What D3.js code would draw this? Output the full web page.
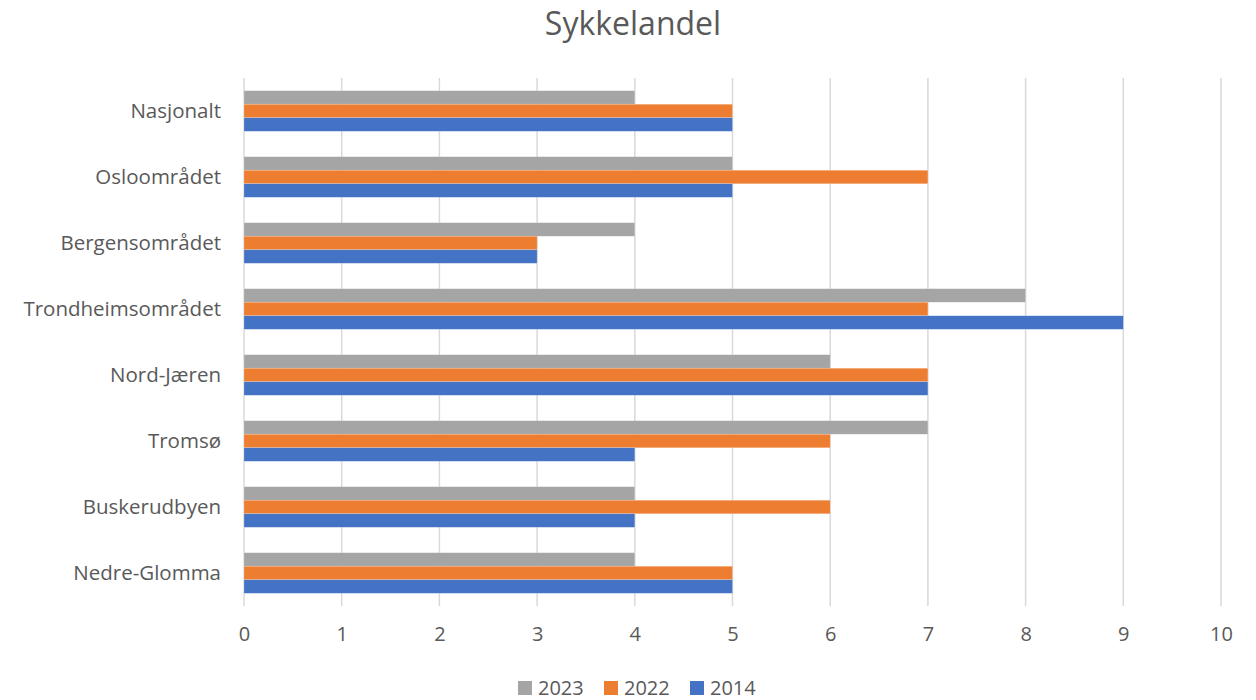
<!DOCTYPE html>
<html>
<head>
<meta charset="utf-8">
<script src="https://cdn.jsdelivr.net/npm/d3@7"></script>
<style>
  body { margin: 0; background: #fff; }
  text { font-family: "Open Sans", "Noto Sans", sans-serif; fill: #595959; }
</style>
</head>
<body>
<svg id="chart" width="1256" height="700"></svg>
<script>
// data
var categories = ["Nasjonalt", "Osloområdet", "Bergensområdet", "Trondheimsområdet",
                  "Nord-Jæren", "Tromsø", "Buskerudbyen", "Nedre-Glomma"];
var seriesNames = ["2023", "2022", "2014"];
var values2023 = [4, 5, 4, 8, 6, 7, 4, 4];
var values2022 = [5, 7, 3, 7, 7, 6, 6, 5];
var values2014 = [5, 5, 3, 9, 7, 4, 4, 5];
var xTicks = [0, 1, 2, 3, 4, 5, 6, 7, 8, 9, 10];
var colors = ["#A5A5A5", "#ED7D31", "#4472C4"];

var series = [values2023, values2022, values2014];

var svg = d3.select("#chart");

var margin = {left: 244, top: 78};
var plotW = 1221 - margin.left;
var plotH = 606 - margin.top;

var x = d3.scaleLinear().domain([0, 10]).range([margin.left, margin.left + plotW]);
var y = d3.scaleBand().domain(categories).range([margin.top, margin.top + plotH]).paddingInner(0.385).paddingOuter(0.1925);
var ySub = d3.scaleBand().domain(seriesNames).range([0, y.bandwidth()]);

// title
svg.append("text")
    .attr("x", 633)
    .attr("y", 35)
    .attr("text-anchor", "middle")
    .style("font-size", "32px")
    .text("Sykkelandel");

// gridlines
svg.append("g").attr("class", "grid")
    .selectAll("line")
    .data(xTicks)
    .enter().append("line")
    .attr("x1", function(d){ return x(d); })
    .attr("x2", function(d){ return x(d); })
    .attr("y1", margin.top)
    .attr("y2", margin.top + plotH)
    .attr("stroke", "#d9d9d9")
    .attr("stroke-width", 1.5);

// bars
var groups = svg.append("g").attr("class", "bars")
    .selectAll("g")
    .data(categories)
    .enter().append("g")
    .attr("transform", function(d){ return "translate(0," + y(d) + ")"; });

groups.selectAll("rect")
    .data(function(d, i){
        return series.map(function(s, j){ return {name: seriesNames[j], value: s[i], color: colors[j]}; });
    })
    .enter().append("rect")
    .attr("x", x(0))
    .attr("y", function(d){ return ySub(d.name); })
    .attr("width", function(d){ return x(d.value) - x(0); })
    .attr("height", ySub.bandwidth())
    .attr("fill", function(d){ return d.color; })
    .attr("stroke", "#fff")
    .attr("stroke-opacity", 0.35)
    .attr("stroke-width", 0.6);

// y axis labels
var yAxis = d3.axisLeft(y).tickSize(0).tickPadding(23);
svg.append("g")
    .attr("transform", "translate(" + margin.left + ",0)")
    .call(yAxis)
    .call(function(g){ g.select(".domain").remove(); })
    .selectAll("text")
    .style("font-size", "20.5px")
    .attr("fill", "#595959");

// x axis labels
var xAxis = d3.axisBottom(x).tickValues(xTicks).tickSize(0).tickPadding(21).tickFormat(d3.format("d"));
svg.append("g")
    .attr("transform", "translate(0," + (margin.top + plotH) + ")")
    .call(xAxis)
    .call(function(g){ g.select(".domain").remove(); })
    .selectAll("text")
    .style("font-size", "20px")
    .attr("fill", "#595959");

// legend
var legendX = [518, 604, 690];
var legend = svg.append("g").attr("class", "legend")
    .selectAll("g")
    .data(seriesNames)
    .enter().append("g")
    .attr("transform", function(d, i){ return "translate(" + legendX[i] + ",681)"; });
legend.append("rect")
    .attr("width", 14)
    .attr("height", 14)
    .attr("fill", function(d, i){ return colors[i]; });
legend.append("text")
    .attr("x", 20)
    .attr("y", 14)
    .style("font-size", "20px")
    .text(function(d){ return d; });
</script>
</body>
</html>
